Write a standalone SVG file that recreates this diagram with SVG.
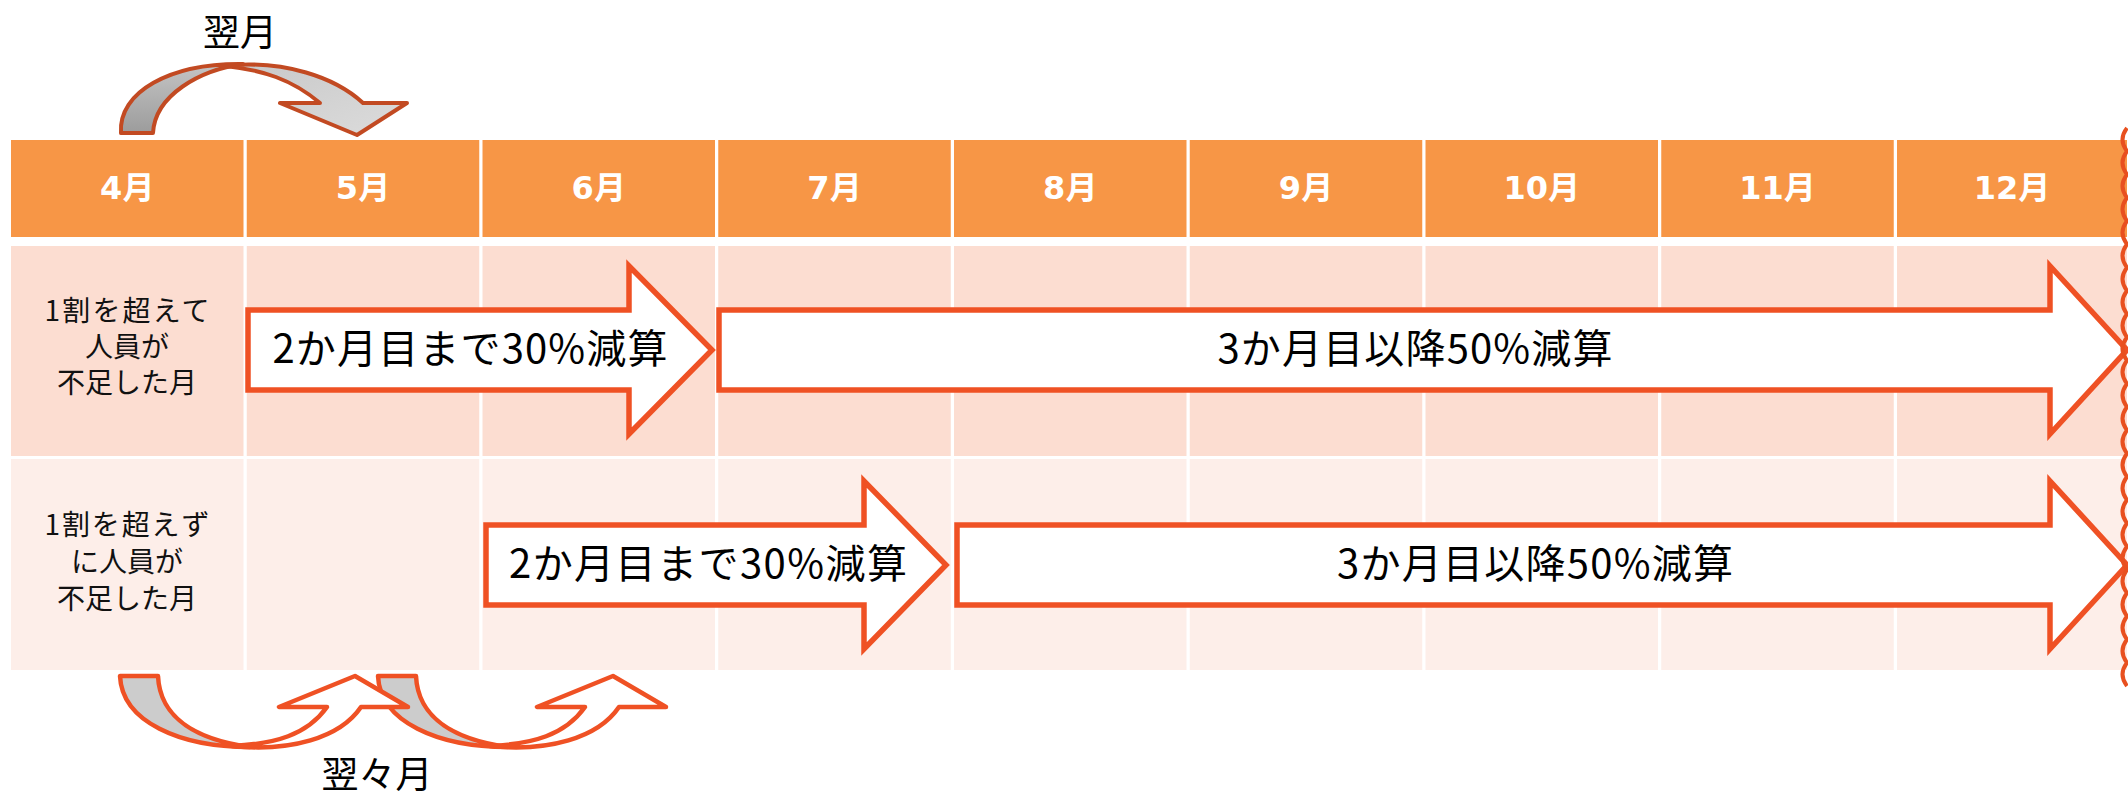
<svg xmlns="http://www.w3.org/2000/svg" width="2128" height="796" viewBox="0 0 2128 796">
<defs>
<style>
.hd{fill:#F79646}
.r1{fill:#FCDDD1}
.r2{fill:#FDEEE9}
.ht{font-family:"DejaVu Sans","Noto Sans CJK JP",sans-serif;font-weight:bold;font-size:32px;fill:#fff;text-anchor:middle}
.lb{font-family:"Noto Sans CJK JP",sans-serif;font-size:28px;fill:#111;text-anchor:middle}
.ba{fill:#fff;stroke:#EF5124;stroke-width:5.5;stroke-linejoin:miter}
.at{font-family:"Noto Sans CJK JP",sans-serif;font-size:40px;fill:#000;text-anchor:middle}
.ca{font-family:"Noto Sans CJK JP",sans-serif;font-size:37px;fill:#000;text-anchor:middle}
.tc{stroke:#C24A22;stroke-width:4;stroke-linejoin:round}
.bc{stroke:#EF5124;stroke-width:4.5;stroke-linejoin:round}
</style>
<linearGradient id="gd" x1="0" y1="1" x2="0" y2="0">
<stop offset="0" stop-color="#9C9C9C"/>
<stop offset="1" stop-color="#C4C4C4"/>
</linearGradient>
<linearGradient id="gl" x1="0" y1="0" x2="1" y2="1">
<stop offset="0" stop-color="#C8C8C8"/>
<stop offset="1" stop-color="#DCDCDC"/>
</linearGradient>
</defs>
<rect width="2128" height="796" fill="#fff"/>

<g id="header">
<g id="h4"><rect class="hd" x="11" y="140" width="232.5" height="97"/><text class="ht" x="127.25" y="199">4月</text></g>
<g id="h5"><rect class="hd" x="246.75" y="140" width="232.5" height="97"/><text class="ht" x="363" y="199">5月</text></g>
<g id="h6"><rect class="hd" x="482.5" y="140" width="232.5" height="97"/><text class="ht" x="598.75" y="199">6月</text></g>
<g id="h7"><rect class="hd" x="718.25" y="140" width="232.5" height="97"/><text class="ht" x="834.5" y="199">7月</text></g>
<g id="h8"><rect class="hd" x="954" y="140" width="232.5" height="97"/><text class="ht" x="1070.25" y="199">8月</text></g>
<g id="h9"><rect class="hd" x="1189.75" y="140" width="232.5" height="97"/><text class="ht" x="1306" y="199">9月</text></g>
<g id="h10"><rect class="hd" x="1425.5" y="140" width="232.5" height="97"/><text class="ht" x="1541.75" y="199">10月</text></g>
<g id="h11"><rect class="hd" x="1661.25" y="140" width="232.5" height="97"/><text class="ht" x="1777.5" y="199">11月</text></g>
<g id="h12"><rect class="hd" x="1897" y="140" width="230" height="97"/><text class="ht" x="2012" y="199">12月</text></g>
</g>

<g id="row1">
<rect class="r1" x="11" y="246" width="232.5" height="210"/>
<rect class="r1" x="246.75" y="246" width="232.5" height="210"/>
<rect class="r1" x="482.5" y="246" width="232.5" height="210"/>
<rect class="r1" x="718.25" y="246" width="232.5" height="210"/>
<rect class="r1" x="954" y="246" width="232.5" height="210"/>
<rect class="r1" x="1189.75" y="246" width="232.5" height="210"/>
<rect class="r1" x="1425.5" y="246" width="232.5" height="210"/>
<rect class="r1" x="1661.25" y="246" width="232.5" height="210"/>
<rect class="r1" x="1897" y="246" width="230" height="210"/>
<text class="lb" x="127" y="321" textLength="165">1割を超えて</text>
<text class="lb" x="127" y="357">人員が</text>
<text class="lb" x="127" y="393">不足した月</text>
</g>

<g id="row2">
<rect class="r2" x="11" y="459" width="232.5" height="211"/>
<rect class="r2" x="246.75" y="459" width="232.5" height="211"/>
<rect class="r2" x="482.5" y="459" width="232.5" height="211"/>
<rect class="r2" x="718.25" y="459" width="232.5" height="211"/>
<rect class="r2" x="954" y="459" width="232.5" height="211"/>
<rect class="r2" x="1189.75" y="459" width="232.5" height="211"/>
<rect class="r2" x="1425.5" y="459" width="232.5" height="211"/>
<rect class="r2" x="1661.25" y="459" width="232.5" height="211"/>
<rect class="r2" x="1897" y="459" width="230" height="211"/>
<text class="lb" x="127" y="535" textLength="165">1割を超えず</text>
<text class="lb" x="127" y="572">に人員が</text>
<text class="lb" x="127" y="609">不足した月</text>
</g>

<g id="arrow-r1-a">
<path class="ba" d="M248,310 L629,310 L629,266 L712,350 L629,434 L629,390 L248,390 Z"/>
<text class="at" x="470" y="363" textLength="395">2か月目まで30%減算</text>
</g>
<g id="arrow-r1-b">
<path class="ba" d="M719,310 L2050,310 L2050,266 L2127,350 L2050,434 L2050,390 L719,390 Z"/>
<text class="at" x="1415" y="363" textLength="395">3か月目以降50%減算</text>
</g>
<g id="arrow-r2-a">
<path class="ba" d="M486,525 L864,525 L864,481 L946,565 L864,649 L864,605 L486,605 Z"/>
<text class="at" x="708" y="578" textLength="398">2か月目まで30%減算</text>
</g>
<g id="arrow-r2-b">
<path class="ba" d="M957,525 L2050,525 L2050,481 L2127,565 L2050,649 L2050,605 L957,605 Z"/>
<text class="at" x="1535" y="578" textLength="396">3か月目以降50%減算</text>
</g>

<g id="break-line">
<path d="M2127,128 q-9,11.6 0,23.25 q-9,11.6 0,23.25 q-9,11.6 0,23.25 q-9,11.6 0,23.25 q-9,11.6 0,23.25 q-9,11.6 0,23.25 q-9,11.6 0,23.25 q-9,11.6 0,23.25 q-9,11.6 0,23.25 q-9,11.6 0,23.25 q-9,11.6 0,23.25 q-9,11.6 0,23.25 q-9,11.6 0,23.25 q-9,11.6 0,23.25 q-9,11.6 0,23.25 q-9,11.6 0,23.25 q-9,11.6 0,23.25 q-9,11.6 0,23.25 q-9,11.6 0,23.25 q-9,11.6 0,23.25 q-9,11.6 0,23.25 q-9,11.6 0,23.25 q-9,11.6 0,23.25 q-9,11.6 0,23.25" fill="none" stroke="#E8501F" stroke-width="4"/>
</g>

<g id="connectors">
<g id="next-month">
<path class="tc" fill="url(#gl)" d="M222,66 C285,59 336,78 363,103 L407,103 L357,135 L280,103 L320,103 C293,80 262,69 222,66 Z"/>
<path class="tc" fill="url(#gd)" d="M121,133 C118,92 170,63 243,64 C200,70 155,95 153,133 Z"/>
<text class="ca" x="240" y="46">翌月</text>
</g>
<g id="month-after-next">
<g transform="translate(258,0)">
<path class="bc" fill="#fff" d="M232,746 C290,752 340,738 361,707 L408,707 L355,676 L279,707 L327,707 C307,735 275,744 232,746 Z"/>
<path class="bc" fill="#CCCCCC" d="M120,676 L158,676 C160,720 200,740 250,747 C180,747 122,722 120,676 Z"/>
</g>
<path class="bc" fill="#fff" d="M232,746 C290,752 340,738 361,707 L408,707 L355,676 L279,707 L327,707 C307,735 275,744 232,746 Z"/>
<path class="bc" fill="#CCCCCC" d="M120,676 L158,676 C160,720 200,740 250,747 C180,747 122,722 120,676 Z"/>
<text class="ca" x="377" y="788">翌々月</text>
</g>
</g>
</svg>
